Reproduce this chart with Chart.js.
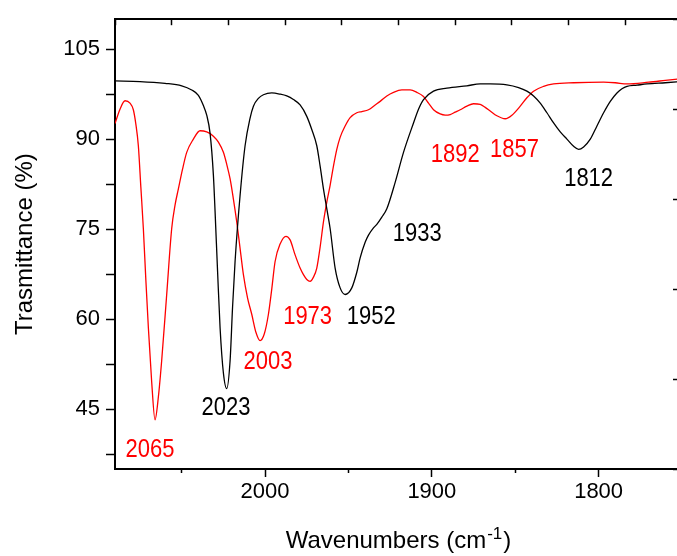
<!DOCTYPE html>
<html><head><meta charset="utf-8">
<script src="https://cdn.jsdelivr.net/npm/chart.js@4.4.1/dist/chart.umd.min.js"></script>
<style>
html,body{margin:0;padding:0;overflow:hidden;background:#fff;width:677px;height:556px}
#wrap{width:690px;height:556px}
canvas{display:block}
</style></head><body><div id="wrap"><canvas id="c" width="690" height="556"></canvas></div>
<script>
// ---- data (wavenumber cm-1, transmittance %) ----
const blackWavenumbers = [2090,2075,2060,2050,2044,2040,2037,2035,2033,2031,2030,2028.5,2027,2025,2023,2021,2019.5,2018,2015,2012,2009,2007,2004,2001,1996,1991,1987,1983,1979,1975,1972,1969,1967,1965,1963,1961,1958,1955,1952,1948,1945,1943,1940,1938,1935,1933,1930,1927,1922,1917,1911,1908,1905,1899,1891,1879,1871,1865,1855,1848,1843,1839,1835,1831,1827,1823,1819,1815,1812,1809,1805,1801,1797,1793,1789,1786,1783,1777,1771,1760,1750];
const blackTransmittance = [99.7,99.6,99.3,98.9,98.2,97.3,95.6,94.0,91.0,84.0,78.0,68.0,58.6,51.0,48.4,53.0,62.0,69.6,80.6,88.9,93.5,95.5,96.8,97.4,97.7,97.5,97.2,96.6,95.7,93.8,91.6,88.9,85.5,81.7,78.4,75.1,68.5,65.2,64.1,65.2,67.8,70.2,72.8,74.0,75.2,75.8,77.0,78.4,82.8,87.8,92.7,95.0,96.6,98.0,98.5,98.9,99.2,99.2,99.05,98.6,98.0,97.2,96.0,94.4,92.7,91.2,90.0,88.8,88.3,88.7,90.0,92.2,94.4,96.3,97.7,98.4,98.8,99.0,99.2,99.4,99.6];

const redWavenumbers = [2090,2087,2084,2081,2079,2077.5,2076,2074.5,2073,2071.5,2070,2068,2066,2064,2062,2059,2056,2054,2052,2049.5,2047,2043,2039,2035,2031,2028,2025,2023,2021,2019,2017,2015,2013,2010.5,2008,2005.5,2003,2000.5,1998,1996,1994,1991,1987.5,1985,1982,1979,1977,1975,1973,1971,1969,1967,1965,1963,1961,1959,1957,1955,1952,1949,1945,1942,1938,1934,1931,1927,1923,1918,1913,1909,1905,1902,1899,1895,1892,1889,1886,1883,1879,1875,1871,1868,1865,1861,1856,1852,1847,1843,1839,1833,1827,1815,1797,1790,1783,1770,1760,1750];
const redTransmittance = [92.6,95.0,96.4,96.0,94.9,92.5,88.9,82.0,75.1,66.5,58.6,49.5,43.2,47.0,53.1,64.1,75.1,79.0,81.7,85.0,87.8,90.0,91.4,91.2,90.5,89.5,87.8,85.8,83.4,80.0,76.2,71.8,67.4,63.5,60.8,57.8,56.4,57.5,60.8,65.0,69.6,72.5,73.8,73.2,70.7,68.5,67.4,66.6,66.3,67.0,68.5,72.0,76.2,79.5,82.3,85.5,88.3,90.3,92.2,93.6,94.4,94.6,94.9,95.7,96.3,97.2,97.8,98.2,98.2,97.8,97.1,96.0,94.9,94.2,94.0,94.1,94.5,94.9,95.5,95.9,95.8,95.3,94.7,93.9,93.4,94.0,95.5,96.9,98.0,98.8,99.2,99.4,99.5,99.4,99.2,99.5,99.8,100.1];

// axis ticks
const xTickLabels = [2000, 1900, 1800];
const xMinorTicks = [2050, 1950, 1850];
const yTickLabels = [45, 60, 75, 90, 105];
const yMinorTicks = [37.5, 52.5, 67.5, 82.5, 97.5];
const yRightTicks = [35, 50, 65, 80, 95, 110];

// peak annotations (text, anchor in data units, series index)
const peakText   = ['2065','2023','2003','1973','1952','1933','1892','1857','1812'];
const peakX      = [2069, 2023.4, 1998.2, 1974.5, 1936.4, 1908.8, 1886, 1850.5, 1806];
const peakY      = [38.2, 45.2, 52.8, 60.4, 60.4, 74.1, 87.4, 88.2, 83.3];
const peakSeries = [1, 0, 1, 1, 0, 0, 1, 1, 0];

const FONT = '"Liberation Sans", Arial, Helvetica, sans-serif';

const peakLabelPlugin = {
  id: 'peakLabels',
  afterDatasetsDraw(chart) {
    const ctx = chart.ctx, xs = chart.scales.x, ys = chart.scales.y;
    ctx.save();
    ctx.font = '25px ' + FONT;
    ctx.textAlign = 'center';
    ctx.textBaseline = 'middle';
    peakText.forEach((t, i) => {
      ctx.fillStyle = chart.data.datasets[peakSeries[i]].borderColor;
      const px = xs.getPixelForValue(peakX[i]);
      const py = ys.getPixelForValue(peakY[i]);
      ctx.save();
      ctx.translate(px, py);
      ctx.scale(0.88, 1);
      ctx.fillText(t, 0, 0);
      ctx.restore();
    });
    ctx.restore();
  }
};

const xTitlePlugin = {
  id: 'xTitle',
  afterDraw(chart) {
    const ctx = chart.ctx, xs = chart.scales.x;
    const main = 'Wavenumbers (cm', sup = '-1', close = ')';
    ctx.save();
    ctx.fillStyle = '#000';
    ctx.textBaseline = 'alphabetic';
    ctx.textAlign = 'left';
    const mainFont = '24px ' + FONT, supFont = '17px ' + FONT;
    ctx.font = mainFont; const w1 = ctx.measureText(main).width; const w3 = ctx.measureText(close).width;
    ctx.font = supFont; const w2 = ctx.measureText(sup).width;
    const total = w1 + w2 + w3 + 2;
    let cx = (xs.left + xs.right) / 2 - total / 2;
    const base = xs.bottom - 8;
    ctx.font = mainFont; ctx.fillText(main, cx, base); cx += w1 + 1;
    ctx.font = supFont; ctx.fillText(sup, cx, base - 9); cx += w2 + 1;
    ctx.font = mainFont; ctx.fillText(close, cx, base);
    ctx.restore();
  }
};

const toXY = (xs, ys) => xs.map((w, i) => ({x: w, y: ys[i]}));

new Chart(document.getElementById('c'), {
  type: 'line',
  data: {
    datasets: [
      {label: 'black', data: toXY(blackWavenumbers, blackTransmittance), borderColor: '#000000', borderWidth: 1.3, pointRadius: 0, cubicInterpolationMode: 'monotone', fill: false, xAxisID: 'x', yAxisID: 'y'},
      {label: 'red', data: toXY(redWavenumbers, redTransmittance), borderColor: '#ff0000', borderWidth: 1.3, pointRadius: 0, cubicInterpolationMode: 'monotone', fill: false, xAxisID: 'x', yAxisID: 'y'}
    ]
  },
  options: {
    responsive: false,
    animation: false,
    devicePixelRatio: 1,
    layout: {padding: {left: 0, right: 8, top: 0, bottom: 0}},
    plugins: {legend: {display: false}, tooltip: {enabled: false}},
    scales: {
      x: {
        type: 'linear', position: 'bottom', weight: 1, min: 1750, max: 2090, reverse: true,
        afterBuildTicks: s => { s.ticks = xTickLabels.map(v => ({value: v})); },
        ticks: {font: {family: FONT, size: 22}, color: '#000', padding: 2, maxRotation: 0, autoSkip: false,
                callback: v => String(v)},
        grid: {drawOnChartArea: false, tickLength: 8, tickWidth: 1.5, tickColor: '#000'},
        border: {display: true, width: 2, color: '#000'},
        afterFit: s => { s.height = 87; }
      },
      xMinor: {
        type: 'linear', position: 'bottom', weight: 0, min: 1750, max: 2090, reverse: true,
        afterBuildTicks: s => { s.ticks = xMinorTicks.map(v => ({value: v})); },
        ticks: {display: false},
        grid: {drawOnChartArea: false, tickLength: 4, tickWidth: 1.5, tickColor: '#000'},
        border: {display: false},
        afterFit: s => { s.height = 0; }
      },
      x2: {
        type: 'linear', position: 'top', min: 0, max: 10,
        ticks: {display: false, stepSize: 1},
        grid: {drawOnChartArea: false, tickLength: -6, tickWidth: 1.5, tickColor: '#000'},
        border: {display: true, width: 2, color: '#000'},
        afterFit: s => { s.height = 16; }
      },
      y: {
        type: 'linear', position: 'left', min: 35, max: 110,
        afterBuildTicks: s => { s.ticks = yTickLabels.concat(yMinorTicks).sort((a,b)=>a-b).map(v => ({value: v})); },
        ticks: {font: {family: FONT, size: 22}, color: '#000', padding: 6, autoSkip: false,
                callback: v => yTickLabels.includes(v) ? String(v) : ''},
        grid: {drawOnChartArea: false, tickLength: 9, tickWidth: 1.5, tickColor: '#000'},
        border: {display: true, width: 2, color: '#000'},
        title: {display: true, text: 'Trasmittance (%)', color: '#000', font: {family: FONT, size: 24}, padding: {top: 11, bottom: 0}},
        afterFit: s => { s.width = 115; }
      },
      y2: {
        type: 'linear', position: 'right', min: 35, max: 110,
        afterBuildTicks: s => { s.ticks = yRightTicks.map(v => ({value: v})); },
        ticks: {display: false},
        grid: {drawOnChartArea: false, tickLength: -9, tickWidth: 1.5, tickColor: '#000'},
        border: {display: true, width: 2, color: '#000'},
        afterFit: s => { s.width = 0; }
      }
    }
  },
  plugins: [peakLabelPlugin, xTitlePlugin]
});
</script>
</body></html>
